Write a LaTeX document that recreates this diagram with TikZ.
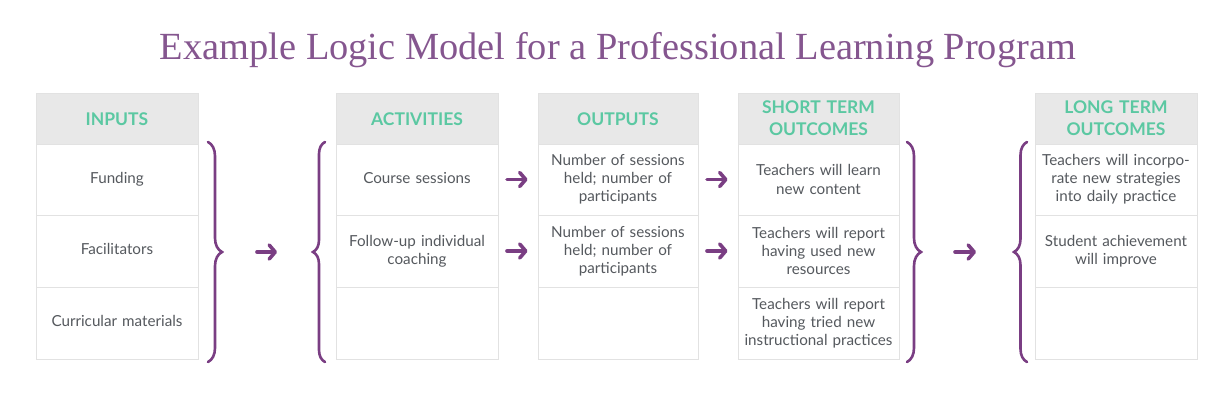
\documentclass[tikz,border=0pt]{standalone}
\usepackage{fontspec}
\setmainfont{Lato}
\newfontfamily\titlefont{Liberation Serif}
\usetikzlibrary{arrows.meta,decorations.pathreplacing}
\definecolor{titlepurple}{HTML}{85568F}
\definecolor{arrpurple}{HTML}{7A3E83}
\definecolor{headteal}{HTML}{5BC8A2}
\definecolor{headfill}{HTML}{E8E8E8}
\definecolor{cellborder}{HTML}{E2E2E2}
\definecolor{txtgray}{HTML}{55595E}
\tikzset{
  cell/.style={draw=cellborder, line width=1pt, fill=white, minimum width=162pt,
    minimum height=72pt, inner sep=0pt, text width=156pt, align=center,
    text=txtgray, font=\fontsize{15.2pt}{18.2pt}\selectfont},
  headcell/.style={cell, fill=headfill, minimum height=51pt, text=headteal,
    font=\fontsize{17.5pt}{22pt}\selectfont\bfseries},
  arr/.style={draw=arrpurple, line width=3.6pt, line cap=round,
    -{Straight Barb[length=6pt,width=14pt,line cap=round,line join=round]}},
  bracedeco/.style={draw=arrpurple, line width=2.6pt, line cap=round,
    decorate, decoration={brace, amplitude=#1, aspect=0.5}}
}
\begin{document}
\begin{tikzpicture}[x=1pt,y=-1pt]
\useasboundingbox (0,0) rectangle (1218,405);
\node[font=\titlefont\fontsize{38.4pt}{42pt}\selectfont, text=titlepurple] (title) at (618,50) {Example Logic Model for a Professional Learning Program};

% INPUTS
\node[headcell] (inh) at (117,119) {INPUTS};
\node[cell, minimum height=71pt] (in1) at (117,179.5) {\strut Funding};
\node[cell] (in2) at (117,251) {\strut Facilitators};
\node[cell] (in3) at (117,323) {\strut Curricular materials};
% ACTIVITIES
\node[headcell] (ach) at (417,119) {ACTIVITIES};
\node[cell, minimum height=71pt] (ac1) at (417,179.5) {\strut Course sessions};
\node[cell] (ac2) at (417,251) {Follow-up individual\\coaching};
\node[cell] (ac3) at (417,323) {};
% OUTPUTS
\node[headcell, minimum width=160pt] (ouh) at (618,119) {OUTPUTS};
\node[cell, minimum width=160pt, minimum height=71pt] (ou1) at (618,179.5) {Number of sessions\\held; number of\\participants};
\node[cell, minimum width=160pt] (ou2) at (618,251) {Number of sessions\\held; number of\\participants};
\node[cell, minimum width=160pt] (ou3) at (618,323) {};
% SHORT TERM
\node[headcell, minimum width=161pt] (sth) at (818.5,118.5) {SHORT TERM\\OUTCOMES};
\node[cell, minimum width=161pt, minimum height=71pt] (st1) at (818.5,179.5) {Teachers will learn\\new content};
\node[cell, minimum width=161pt] (st2) at (818.5,251) {Teachers will report\\having used new\\resources};
\node[cell, minimum width=161pt] (st3) at (818.5,323) {Teachers will report\\having tried new\\instructional practices};
% LONG TERM
\node[headcell] (lth) at (1116,118.5) {LONG TERM\\OUTCOMES};
\node[cell, minimum height=71pt] (lt1) at (1116,179.5) {Teachers will incorpo-\\rate new strategies\\into daily practice};
\node[cell] (lt2) at (1116,251) {Student achievement\\will improve};
\node[cell] (lt3) at (1116,323) {};

% braces
\coordinate (b1t) at (208,142); \coordinate (b1b) at (208,362);
\coordinate (b2t) at (325,142); \coordinate (b2b) at (325,362);
\coordinate (b3t) at (907,142); \coordinate (b3b) at (907,362);
\coordinate (b4t) at (1027,142); \coordinate (b4b) at (1027,362);
\draw[bracedeco=14pt] (b1t) -- (b1b);
\draw[bracedeco=12pt] (b2b) -- (b2t);
\draw[bracedeco=14pt] (b3t) -- (b3b);
\draw[bracedeco=13pt] (b4b) -- (b4t);
\coordinate (b1) at (222,252); \coordinate (b2) at (313,252);
\coordinate (b3) at (921,252); \coordinate (b4) at (1014,252);

% arrows
\draw[arr] ([xshift=35pt]b1) -- ([xshift=-36pt]b2);
\draw[arr] ([xshift=34pt]b3) -- ([xshift=-38pt]b4);
\draw[arr] ([xshift=8.5pt]ac1.east) -- ([xshift=-10pt]ou1.west);
\draw[arr] ([xshift=8.5pt]ac2.east) -- ([xshift=-10pt]ou2.west);
\draw[arr] ([xshift=8.5pt]ou1.east) -- ([xshift=-10pt]st1.west);
\draw[arr] ([xshift=8.5pt]ou2.east) -- ([xshift=-10pt]st2.west);
\end{tikzpicture}
\end{document}
